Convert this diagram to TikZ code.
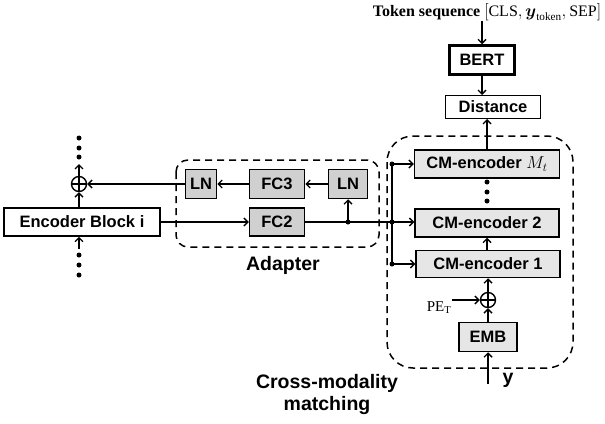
\documentclass[tikz,border=0pt]{standalone}
\usepackage{amsmath}
\usepackage{fontspec}
\setmainfont{Liberation Serif}
\newfontfamily\labfont{Liberation Sans}
\usetikzlibrary{arrows.meta,calc}
\definecolor{adgray}{RGB}{208,208,208}
\definecolor{cmgray}{RGB}{230,230,230}
\begin{document}
\begin{tikzpicture}[x=1pt,y=-1pt,
  line width=1.4pt,
  arr/.style={-{Straight Barb[length=4pt,width=8pt,line width=1.4pt]}},
  blk/.style={draw,line width=1.5pt,font=\labfont\bfseries\fontsize{16.5}{18}\selectfont,inner sep=0pt},
  adbox/.style={blk,fill=adgray},
  cmbox/.style={blk,fill=cmgray},
  dot/.style={circle,fill=black,inner sep=0pt,minimum size=5pt},
  jdot/.style={circle,fill=black,inner sep=0pt,minimum size=5pt},
  plus/.style={circle,draw,line width=1.4pt,minimum size=15pt,inner sep=0pt,
    path picture={\draw[line width=1.4pt] (path picture bounding box.north)--(path picture bounding box.south)
      (path picture bounding box.west)--(path picture bounding box.east);}},
  dbox/.style={draw,dashed,line width=1.5pt,dash pattern=on 7pt off 5pt},
  lbl/.style={font=\labfont\bfseries\fontsize{19.5}{22}\selectfont,align=center}
]
\useasboundingbox (0,0) rectangle (605,423);

% left encoder column
\node[blk,fill=white,minimum width=156pt,minimum height=28pt] (enc) at (82,222) {Encoder Block i};
\node[plus] (pl) at (79,184) {};
\node[dot] (u1) at (79,138) {};
\node[dot] (u2) at (79,148) {};
\node[dot] (u3) at (79,157) {};
\coordinate (utip) at (79,164);
\node[dot] (d1) at (79,255) {};
\node[dot] (d2) at (79,265) {};
\node[dot] (d3) at (79,275) {};
\coordinate (dstart) at (79,249);
\draw[arr] (pl.north) -- (utip);
\draw[arr] (enc.north -| pl) -- (pl.south);
\draw[arr] (dstart) -- (enc.south -| dstart);

% adapter
\draw[dbox,rounded corners=12pt] (176,160) rectangle (379,247);
\node[lbl] (adl) at (283,265) {Adapter};
\node[adbox,minimum width=31pt,minimum height=29pt] (ln1) at (201,184) {LN};
\node[adbox,minimum width=55pt,minimum height=29pt] (fc3) at (277,184) {FC3};
\node[adbox,minimum width=39pt,minimum height=29pt] (ln2) at (348,184) {LN};
\node[adbox,minimum width=55pt,minimum height=28pt] (fc2) at (277,222) {FC2};
\node[jdot] (j1) at (348,222) {};
\draw[arr] (ln1.west) -- (pl.east);
\draw[arr] (fc3.west) -- (ln1.east);
\draw[arr] (ln2.west) -- (fc3.east);
\draw[arr] (j1.center) -- (ln2.south);
\draw[arr] (enc.east) -- (fc2.west);

% cross-modality block
\draw[dbox,rounded corners=26pt] (387,136) rectangle (573,368);
\node[cmbox,minimum width=145pt,minimum height=28pt] (cmt) at (487,164) {CM-encoder $M_t$};
\node[dot] (c1) at (487,182) {};
\node[dot] (c2) at (487,192) {};
\node[dot] (c3) at (487,201) {};
\node[cmbox,minimum width=144pt,minimum height=28pt] (cm2) at (487,223) {CM-encoder 2};
\node[cmbox,minimum width=144pt,minimum height=27pt] (cm1) at (488,264) {CM-encoder 1};
\node[plus] (p2) at (488,300) {};
\node[cmbox,minimum width=58pt,minimum height=29pt] (emb) at (488,337) {EMB};
\node[font=\fontsize{15}{17}\selectfont] (pe) at (439,308) {$\mathrm{PE}_{\mathrm{T}}$};
\coordinate (pes) at (452,300);
\coordinate (ys) at (488,384);
\node[lbl] (yl) at (508,380) {y};
\node[lbl] (cml) at (327,394) {Cross-modality\\matching};

\node[jdot] (b1) at (392,164) {};
\node[jdot] (b2) at (392,222) {};
\node[jdot] (b3) at (392,264) {};
\draw (fc2.east) -- (b2.center);
\draw (j1.center) -- (b2.center);
\draw (b1.center) -- (b3.center);
\draw[arr] (b1.center) -- (cmt.west |- b1);
\draw[arr] (b2.center) -- (cm2.west |- b2);
\draw[arr] (b3.center) -- (cm1.west |- b3);
\draw[arr] (cm1.north -| cm2) -- (cm2.south);
\draw[arr] (p2.north) -- (cm1.south -| p2);
\draw[arr] (emb.north) -- (p2.south);
\draw[arr] (ys) -- (emb.south);
\draw[arr] (pes) -- (p2.west);

% top
\node[draw,fill=white,line width=1pt,font=\labfont\bfseries\fontsize{16.5}{18}\selectfont,inner sep=0pt,minimum width=95pt,minimum height=23pt] (dist) at (493,107) {Distance};
\node[blk,line width=2.5pt,minimum width=65pt,minimum height=29pt] (bert) at (482,60) {BERT};
\node[font=\fontsize{16}{18}\selectfont,inner sep=0pt] (tok) at (487,12) {\textbf{Token sequence} $[\mathrm{CLS},\boldsymbol{y}_{\mathrm{token}},\mathrm{SEP}]$};
\coordinate (ts) at (482,21);
\draw[arr] (ts) -- (bert.north);
\draw[arr] (bert.south) -- (bert.south |- dist.north);
\draw[arr] (cmt.north) -- (cmt.north |- dist.south);
\end{tikzpicture}
\end{document}
